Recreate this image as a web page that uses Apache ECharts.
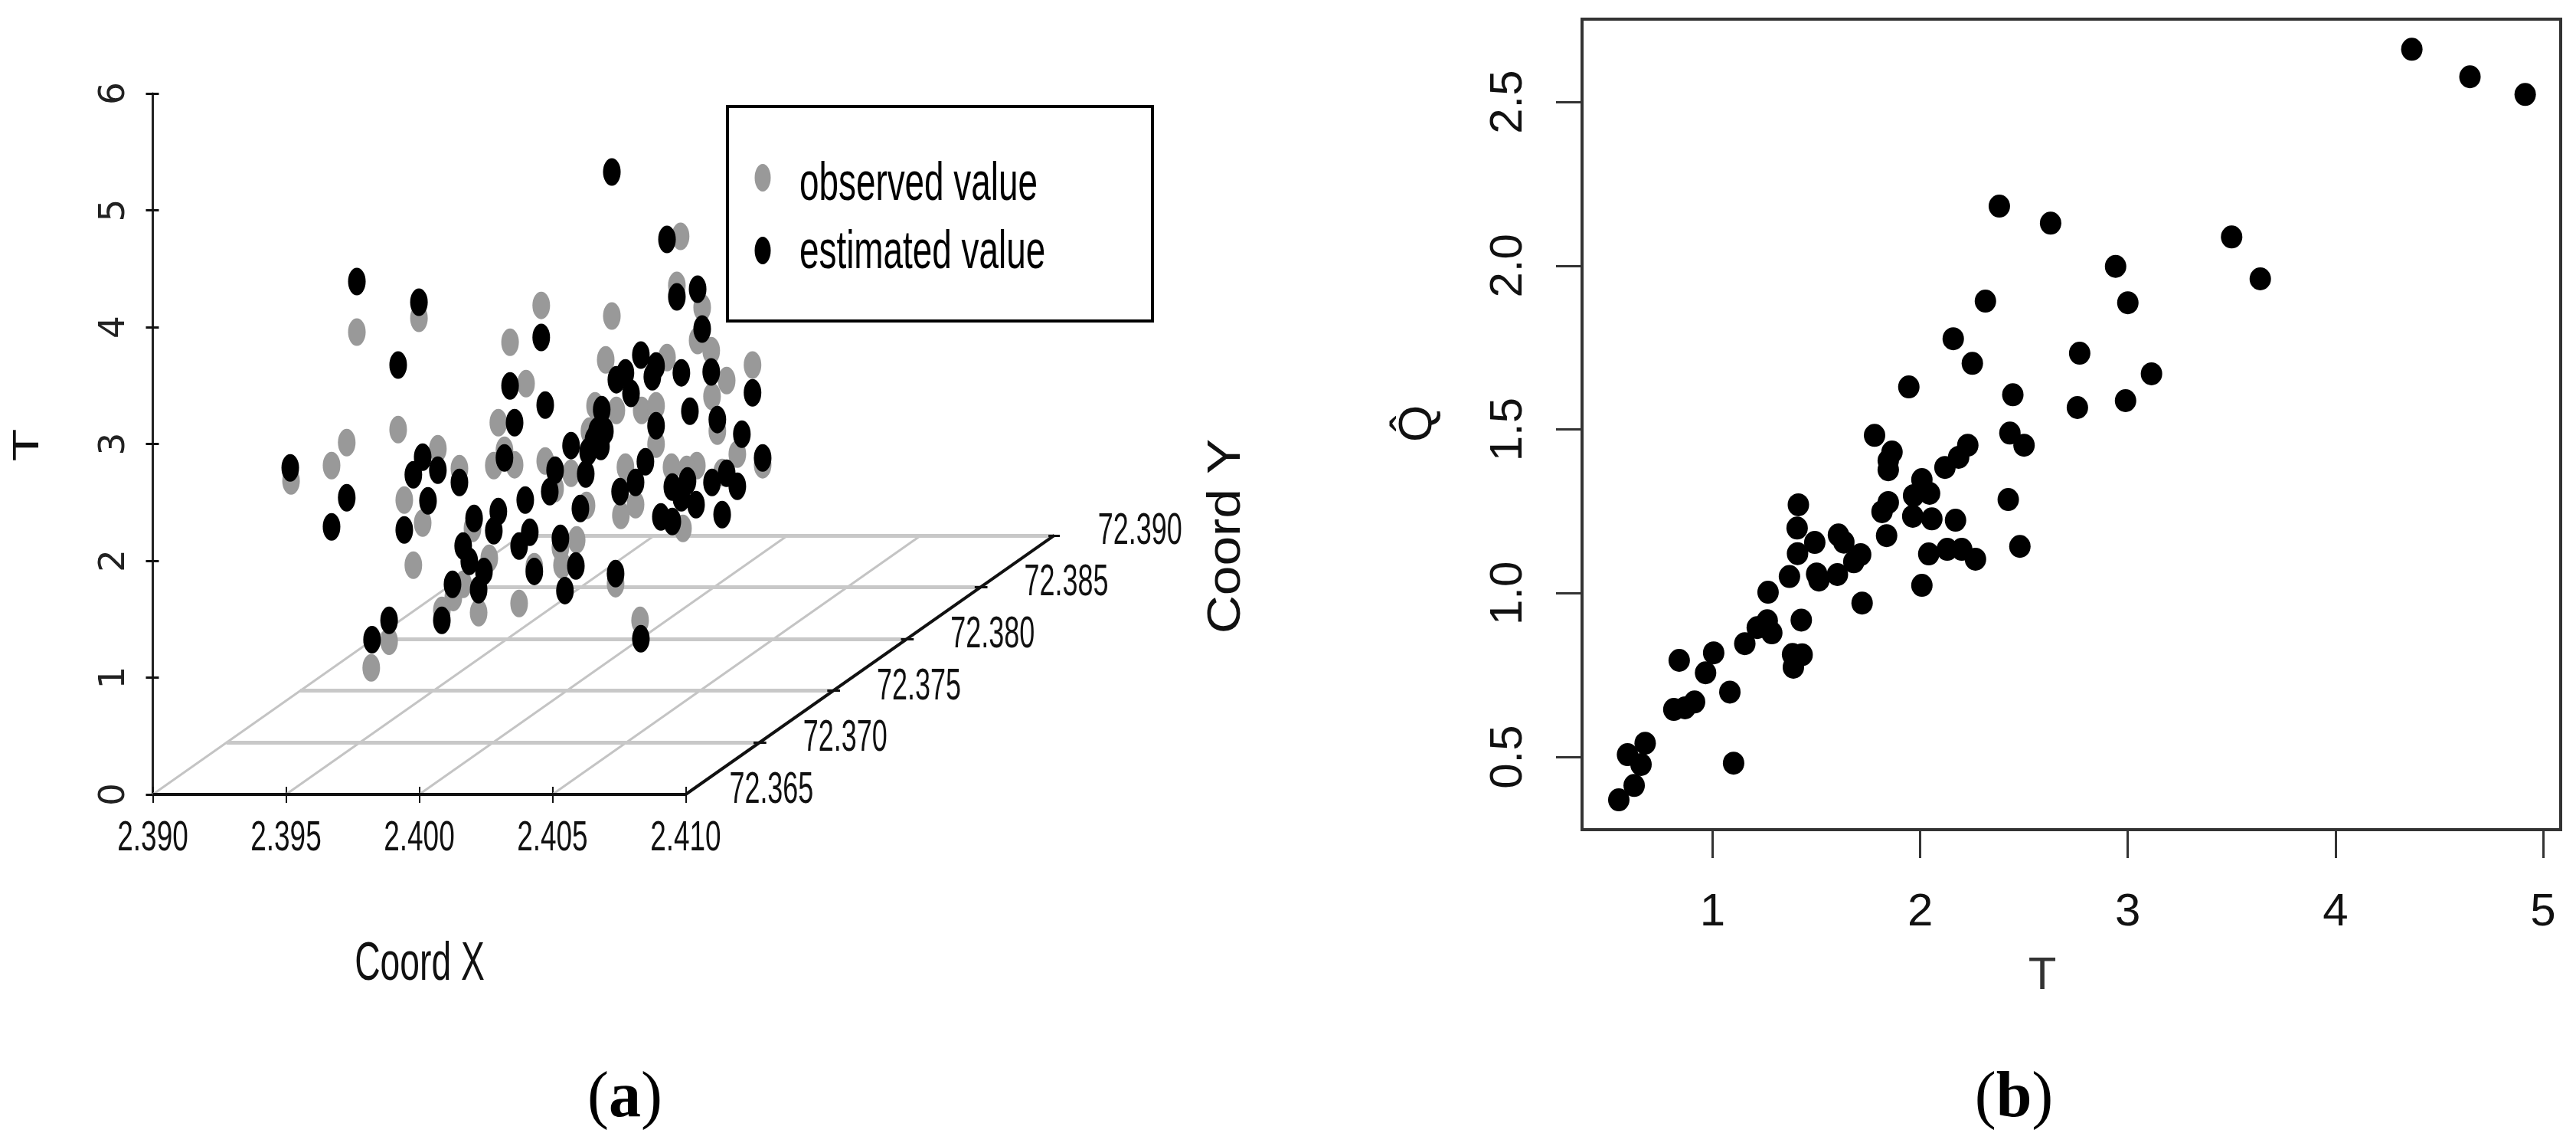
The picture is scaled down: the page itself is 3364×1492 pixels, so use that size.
<!DOCTYPE html>
<html>
<head>
<meta charset="utf-8">
<title>Observed and estimated values</title>
<style>html,body{margin:0;padding:0;background:#fff}#c{width:3364px;height:1492px}</style>
<script src="https://cdn.jsdelivr.net/npm/echarts@6/dist/echarts.min.js"></script>
</head>
<body>
<div id="c"></div>
<script>
// Panel (a): tick values
const coordXTicks = [2.390, 2.395, 2.400, 2.405, 2.410];
const coordYTicks = [72.365, 72.370, 72.375, 72.380, 72.385, 72.390];
const tTicks3d = [0, 1, 2, 3, 4, 5, 6];
const legendNames = ['observed value', 'estimated value'];
// Panel (a): points, [horizontal scale reading, T scale reading]
const observedValue = [[2.40981,4.777],[2.40967,4.357],[2.41062,4.167],[2.40723,4.095],[2.40458,4.186],[2.41045,3.885],[2.41096,3.799],[2.41251,3.675],[2.41154,3.543],[2.41099,3.406],[2.40700,3.720],[2.40930,3.740],[2.39766,3.957],[2.39999,4.075],[2.40341,3.871],[2.40401,3.517],[2.39921,3.123],[2.39728,3.012],[2.39671,2.815],[2.39519,2.684],[2.40070,2.959],[2.40297,3.182],[2.40320,2.946],[2.40280,2.815],[2.40358,2.822],[2.40473,2.854],[2.40151,2.789],[2.39944,2.520],[2.40013,2.323],[2.39978,1.962],[2.40200,2.277],[2.40263,2.021],[2.40432,1.949],[2.40660,3.327],[2.40740,3.287],[2.40835,3.287],[2.40889,3.327],[2.40639,3.110],[2.40889,2.999],[2.40570,2.749],[2.40774,2.802],[2.40947,2.802],[2.41042,2.815],[2.41004,2.782],[2.41194,2.913],[2.41119,3.110],[2.41289,2.822],[2.41137,2.756],[2.40510,2.618],[2.40628,2.474],[2.40812,2.480],[2.40757,2.388],[2.40990,2.277],[2.40591,2.178],[2.40530,2.113],[2.40536,1.962],[2.40165,1.798],[2.40128,1.686],[2.40085,1.575],[2.40223,1.555],[2.40375,1.634],[2.40737,1.804],[2.40829,1.490],[2.39887,1.312],[2.39820,1.083]];
const estimatedValue = [[2.40723,5.328],[2.40930,4.751],[2.40967,4.259],[2.41045,4.324],[2.41062,3.983],[2.40458,3.911],[2.39766,4.390],[2.39999,4.213],[2.39921,3.675],[2.40341,3.497],[2.40473,3.333],[2.40358,3.182],[2.40685,3.294],[2.40570,2.986],[2.40320,2.881],[2.40013,2.887],[2.39978,2.736],[2.40070,2.776],[2.40151,2.671],[2.39516,2.795],[2.39728,2.539],[2.39671,2.290],[2.40033,2.513],[2.39944,2.264],[2.40398,2.520],[2.40510,2.776],[2.40490,2.592],[2.40625,2.743],[2.40605,2.447],[2.40832,3.760],[2.40889,3.668],[2.40875,3.576],[2.40740,3.550],[2.40774,3.609],[2.40795,3.432],[2.40984,3.609],[2.41096,3.616],[2.41251,3.438],[2.41016,3.281],[2.41119,3.209],[2.40889,3.156],[2.41211,3.084],[2.41289,2.881],[2.40668,3.110],[2.40697,3.110],[2.40654,3.032],[2.40682,2.979],[2.40634,2.933],[2.40849,2.848],[2.40812,2.671],[2.40754,2.592],[2.40950,2.631],[2.41007,2.684],[2.40984,2.539],[2.41039,2.480],[2.41099,2.671],[2.41154,2.749],[2.41194,2.638],[2.40907,2.375],[2.40950,2.336],[2.41137,2.395],[2.40530,2.192],[2.40415,2.244],[2.40375,2.126],[2.40206,2.362],[2.40297,2.421],[2.40280,2.257],[2.40165,2.126],[2.40188,1.995],[2.40243,1.909],[2.40223,1.752],[2.40125,1.798],[2.40085,1.490],[2.40432,1.909],[2.40588,1.955],[2.40547,1.745],[2.40737,1.890],[2.39887,1.490],[2.39823,1.325],[2.40832,1.332]];
// Panel (b)
const tTicks = [1, 2, 3, 4, 5];
const qTicks = [0.5, 1.0, 1.5, 2.0, 2.5];
const tValues = [4.368,4.648,4.914,2.381,2.628,3.500,3.638,2.941,2.314,3.000,2.159,2.251,2.768,3.114,2.446,2.757,2.989,2.432,2.500,1.945,1.780,1.864,1.846,1.846,2.229,2.185,2.119,2.008,2.045,1.968,1.846,1.816,1.964,2.056,2.170,1.838,2.041,2.130,2.200,2.266,2.008,1.720,2.424,2.480,1.413,1.407,1.492,1.606,1.632,1.409,1.713,1.680,1.370,1.501,1.512,1.601,1.267,1.263,1.215,1.285,1.427,1.155,1.385,1.431,1.389,1.005,0.839,0.966,1.083,0.913,0.867,0.813,0.675,0.590,0.655,1.101,0.622,0.548];
const qValues = [2.661,2.577,2.523,2.182,2.130,2.088,1.960,1.998,1.892,1.887,1.777,1.702,1.733,1.670,1.606,1.567,1.588,1.489,1.452,1.630,1.482,1.431,1.405,1.377,1.452,1.415,1.384,1.347,1.305,1.298,1.277,1.249,1.235,1.227,1.223,1.176,1.120,1.134,1.134,1.104,1.024,0.970,1.286,1.143,1.270,1.199,1.155,1.178,1.156,1.121,1.118,1.096,1.051,1.059,1.040,1.057,1.003,0.916,0.895,0.879,0.918,0.846,0.813,0.812,0.774,0.818,0.795,0.757,0.698,0.668,0.650,0.645,0.542,0.507,0.477,0.481,0.413,0.369];

// oblique floor of the 3D box, expressed on the panel's horizontal and T scales
const Y0 = coordYTicks[0], SHEAR_U = 0.5534, SHEAR_T = 88.7;
const project = (x, y) => [x + (y - Y0) * SHEAR_U, (y - Y0) * SHEAR_T];
const xEnd = coordXTicks[coordXTicks.length - 1], yEnd = coordYTicks[coordYTicks.length - 1];
const segs = a => a.map(c => ({coords: c}));
const floorAlongY = coordXTicks.slice(0, -1).map(x => [project(x, Y0), project(x, yEnd)]);
const floorAlongX = coordYTicks.slice(1).map(y => [project(coordXTicks[0], y), project(xEnd, y)]);
const boxFront = [[project(coordXTicks[0], Y0), project(xEnd, Y0)], [project(xEnd, Y0), project(xEnd, yEnd)]];
const yTickSegs = coordYTicks.slice(1).map(y => { const p = project(xEnd, y); return [[p[0] - 0.00022, p[1]], [p[0] + 0.00026, p[1]]]; });

const SANS = '"Liberation Sans", Arial, sans-serif';
const SERIF = '"Liberation Serif", serif';
const gtext = (text, x, y, size, family, opt) => {
  opt = opt || {};
  return {
    type: 'text', x, y, silent: true, rotation: opt.rotation || 0, scaleX: opt.scaleX || 1, scaleY: opt.scaleY || 1,
    style: Object.assign({text, fontSize: size, fontFamily: family, fill: '#111', align: 'center', verticalAlign: 'middle'}, opt.style || {})
  };
};
const capText = (label, x, y) => gtext('{p|(}{b|' + label + '}{p|)}', x, y, 84, SERIF, {style: {rich: {
  p: {fontFamily: SERIF, fontSize: 84, fill: '#000'},
  b: {fontFamily: SERIF, fontSize: 84, fontWeight: 'bold', fill: '#000'}
}}});

const chart = echarts.init(document.getElementById('c'), null, {renderer: 'canvas', width: 3364, height: 1492});
chart.setOption({
  animation: false,
  backgroundColor: '#fff',
  grid: [
    {left: 199.5, top: 122, width: 1183, height: 915},
    {left: 2066, top: 25, width: 1278, height: 1058, show: true, borderColor: '#333', borderWidth: 4, backgroundColor: 'transparent'}
  ],
  xAxis: [
    {gridIndex: 0, type: 'value', min: 2.39, max: 2.424, splitLine: {show: false}, axisLine: {show: false},
     axisTick: {customValues: coordXTicks, length: 11, lineStyle: {color: '#111', width: 2}}, axisLabel: {show: false}},
    {gridIndex: 0, type: 'value', min: 2.39, max: 2.424, position: 'bottom', splitLine: {show: false}, axisLine: {show: false},
     axisTick: {customValues: coordXTicks, inside: true, length: 10, lineStyle: {color: '#111', width: 2}}, axisLabel: {show: false}},
    {gridIndex: 1, type: 'value', min: 0.371, max: 5.085, splitLine: {show: false}, axisLine: {show: false},
     axisTick: {customValues: tTicks, length: 37, lineStyle: {color: '#333', width: 3}},
     axisLabel: {customValues: tTicks, margin: 78, fontSize: 60, fontFamily: SANS, color: '#111'}}
  ],
  yAxis: [
    {gridIndex: 0, type: 'value', min: 0, max: 6, interval: 1, splitLine: {show: false},
     axisLine: {show: true, lineStyle: {color: '#222', width: 3}},
     axisTick: {length: 9, lineStyle: {color: '#111', width: 3}},
     axisLabel: {rotate: 90, margin: 26, fontSize: 47, fontFamily: '"DejaVu Sans", sans-serif', color: '#222'}},
    {gridIndex: 0, type: 'value', min: 0, max: 6, interval: 1, position: 'left', splitLine: {show: false}, axisLine: {show: false},
     axisTick: {inside: true, length: 8, lineStyle: {color: '#111', width: 3}}, axisLabel: {show: false}},
    {gridIndex: 1, type: 'value', min: 0.278, max: 2.753, splitLine: {show: false}, axisLine: {show: false},
     axisTick: {customValues: qTicks, length: 34, lineStyle: {color: '#333', width: 3}},
     axisLabel: {customValues: qTicks, rotate: 90, margin: 66, fontSize: 60, fontFamily: SANS, color: '#111', formatter: v => v.toFixed(1)}}
  ],
  series: [
    {type: 'lines', coordinateSystem: 'cartesian2d', xAxisIndex: 0, yAxisIndex: 0, silent: true, z: 1,
     data: segs(floorAlongY), lineStyle: {color: '#c4c4c4', width: 3, opacity: 1}},
    {type: 'lines', coordinateSystem: 'cartesian2d', xAxisIndex: 0, yAxisIndex: 0, silent: true, z: 1,
     data: segs(floorAlongX), lineStyle: {color: '#c8c8c8', width: 5, opacity: 1}},
    {type: 'lines', coordinateSystem: 'cartesian2d', xAxisIndex: 0, yAxisIndex: 0, silent: true, z: 2,
     data: segs(boxFront), lineStyle: {color: '#111', width: 4, opacity: 1}},
    {type: 'lines', coordinateSystem: 'cartesian2d', xAxisIndex: 0, yAxisIndex: 0, silent: true, z: 2,
     data: segs(yTickSegs), lineStyle: {color: '#111', width: 3, opacity: 1}},
    {name: legendNames[0], type: 'scatter', xAxisIndex: 0, yAxisIndex: 0, data: observedValue,
     symbol: 'circle', symbolSize: [23, 36], itemStyle: {color: '#999999', opacity: 1}, z: 3},
    {name: legendNames[1], type: 'scatter', xAxisIndex: 0, yAxisIndex: 0, data: estimatedValue,
     symbol: 'circle', symbolSize: [23, 36], itemStyle: {color: '#000000', opacity: 1}, z: 4},
    {name: 'Q vs T', type: 'scatter', xAxisIndex: 2, yAxisIndex: 2, data: tValues.map((t, i) => [t, qValues[i]]),
     symbol: 'circle', symbolSize: [28, 30], itemStyle: {color: '#000000', opacity: 1}, z: 4}
  ]
});

// Narrow tick labels of panel (a): placed from the axes' own scales, squeezed as in the reference
const px = p => chart.convertToPixel({xAxisIndex: 0, yAxisIndex: 0}, p);
const xLabels = coordXTicks.map(x => gtext(x.toFixed(3), px([x, 0])[0], 1095, 56, SANS, {scaleX: 0.66}));
const yLabels = coordYTicks.map(y => {
  const p = px(project(xEnd, y));
  return gtext(y.toFixed(3), p[0] + 57, p[1] - 5, 58, SANS, {scaleX: 0.62, style: {align: 'left'}});
});
const legendItem = (name, color, dotY, textY) => [
  {type: 'ellipse', silent: true, z: 6, shape: {cx: 996, cy: dotY, rx: 10.5, ry: 18}, style: {fill: color}},
  Object.assign(gtext(name, 1044, textY, 70, SANS, {scaleX: 0.655, style: {align: 'left', fill: '#000'}}), {z: 6})
];
chart.setOption({graphic: {elements: [
  {type: 'rect', silent: true, z: 5, shape: {x: 950, y: 139, width: 555, height: 280}, style: {fill: '#fff', stroke: '#000', lineWidth: 4}},
  ...legendItem(legendNames[0], '#999999', 232, 242),
  ...legendItem(legendNames[1], '#000000', 327, 331),
  ...xLabels,
  ...yLabels,
  gtext('T', 37, 581, 48, SANS, {rotation: Math.PI / 2, scaleX: 1.45}),
  gtext('Coord X', 548, 1260, 70, SANS, {scaleX: 0.66}),
  gtext('Coord Y', 1602, 700, 62, SANS, {rotation: Math.PI / 2, scaleX: 1.12}),
  gtext('T', 2667, 1274, 60, SANS, {style: {fill: '#333'}}),
  gtext('Q\u0302', 1852, 553, 62, SANS, {rotation: Math.PI / 2}),
  capText('a', 816, 1435),
  capText('b', 2630, 1435)
]}});
</script>
</body>
</html>
